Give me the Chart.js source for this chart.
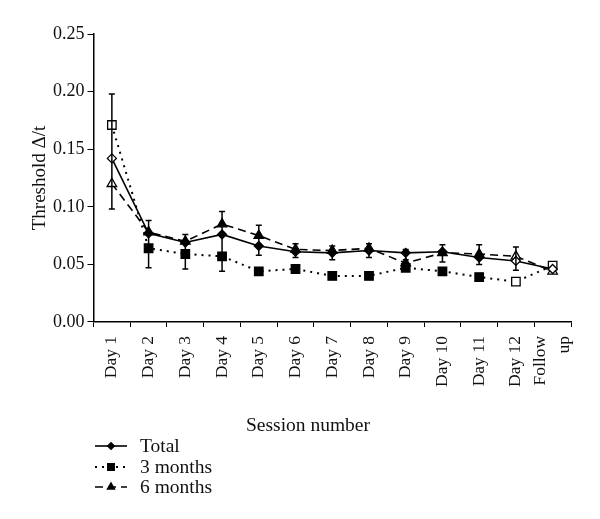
<!DOCTYPE html>
<html>
<head>
<meta charset="UTF-8">
<title>Threshold by session</title>
<script src="https://cdn.jsdelivr.net/npm/chart.js@4/dist/chart.umd.min.js"></script>
<style>
  html, body { margin: 0; padding: 0; background: #fff; }
  #wrap { position: relative; width: 600px; height: 519px; }
  .txt { font-family: "Liberation Serif", serif; color: #111; }
  #xtitle { position: absolute; left: 208px; width: 200px; top: 413px; text-align: center; font-size: 19.5px; line-height: 24px; }
  #legend { position: absolute; left: 93px; top: 436px; font-size: 19.5px; }
  #legend div { height: 20.5px; line-height: 20.5px; display: flex; align-items: center; }
  #legend canvas { margin-right: 11px; }
</style>
</head>
<body>
<div id="wrap">
  <canvas id="chart" width="600" height="519"></canvas>
  <div id="xtitle" class="txt">Session number</div>
  <div id="legend" class="txt"></div>
</div>
<script>
// session labels (x axis)
var sessions = ['Day 1', 'Day 2', 'Day 3', 'Day 4', 'Day 5', 'Day 6', 'Day 7',
                'Day 8', 'Day 9', 'Day 10', 'Day 11', 'Day 12', ['Follow', 'up']];

// threshold values
var total      = [0.142, 0.077, 0.069, 0.076, 0.066, 0.061, 0.060, 0.062, 0.060, 0.061, 0.056, 0.053, 0.046];
var threeMonth = [0.171, 0.064, 0.059, 0.057, 0.044, 0.046, 0.040, 0.040, 0.047, 0.044, 0.039, 0.035, 0.049];
var sixMonth   = [0.120, 0.078, 0.070, 0.085, 0.075, 0.063, 0.062, 0.064, 0.051, 0.060, 0.059, 0.057, 0.044];

// error bar ends (upper / lower)
var errHigh = [0.198, 0.088, 0.076, 0.096, 0.084, 0.068, 0.066, 0.068, 0.063, 0.067, 0.067, 0.065, null];
var errLow  = [0.098, 0.047, 0.046, 0.044, 0.058, 0.056, 0.054, 0.056, 0.054, 0.052, 0.050, 0.045, null];

// y ticks
var yTicks = [0, 0.05, 0.10, 0.15, 0.20, 0.25];

// which points are drawn hollow (first, day 12, follow up)
var hollow = [true, false, false, false, false, false, false, false, false, false, false, true, true];

var FONT = '"Liberation Serif", "Times New Roman", serif';

function fills() {
    return hollow.map(function(h) { return h ? '#ffffff' : '#000000'; });
}

var errorBars = {
    id: 'errorBars',
    afterDatasetsDraw: function(chart) {
        var ctx = chart.ctx, x = chart.scales.x, y = chart.scales.y;
        ctx.save();
        ctx.strokeStyle = '#000';
        ctx.lineWidth = 1.5;
        for (var i = 0; i < errHigh.length; i++) {
            if (errHigh[i] == null) continue;
            var px = x.getPixelForValue(i);
            var top = y.getPixelForValue(errHigh[i]);
            var bot = y.getPixelForValue(errLow[i]);
            ctx.beginPath();
            ctx.moveTo(px, top); ctx.lineTo(px, bot);
            ctx.moveTo(px - 3, top); ctx.lineTo(px + 3, top);
            ctx.moveTo(px - 3, bot); ctx.lineTo(px + 3, bot);
            ctx.stroke();
        }
        ctx.restore();
    }
};

// center multi-line rotated tick labels on their tick (Chart.js puts the first line on it)
var centerMultiline = {
    id: 'centerMultiline',
    beforeDraw: function(chart) {
        try {
            var sx = chart.scales.x;
            var items = sx.getLabelItems(chart.chartArea);
            var lh = sx.options.ticks.font.size * sx.options.ticks.font.lineHeight;
            items.forEach(function(it) {
                var tr = it.options && it.options.translation;
                if (Array.isArray(it.label) && tr && !it._centered) {
                    tr[0] -= lh * (it.label.length - 1) / 2;
                    it._centered = true;
                }
            });
        } catch (e) {
            console.warn('label centering skipped', e);
        }
    }
};

var datasets = [
    { label: 'Total', data: total, borderColor: '#000', borderWidth: 1.6, borderDash: [],
      pointStyle: 'rectRot', pointRadius: 4.5, pointBackgroundColor: fills(), pointBorderColor: '#000', pointBorderWidth: 1.3 },
    { label: '3 months', data: threeMonth, borderColor: '#000', borderWidth: 2, borderDash: [2, 5],
      pointStyle: 'rect', pointRadius: 6, pointBackgroundColor: fills(), pointBorderColor: '#000', pointBorderWidth: 1.3 },
    { label: '6 months', data: sixMonth, borderColor: '#000', borderWidth: 1.6, borderDash: [8, 5],
      pointStyle: 'triangle', pointRadius: 5.5, pointBackgroundColor: fills(), pointBorderColor: '#000', pointBorderWidth: 1.3 }
];

new Chart(document.getElementById('chart'), {
    type: 'line',
    data: { labels: sessions, datasets: datasets },
    options: {
        responsive: false,
        animation: false,
        layout: { padding: { left: 31, right: 29, top: 34, bottom: 123 } },
        plugins: { legend: { display: false }, tooltip: { enabled: false } },
        elements: { line: { tension: 0 } },
        scales: {
            x: {
                offset: true,
                // labels overhang is handled by layout padding, not by the axis
                afterFit: function(axis) { axis.paddingRight = 0; },
                grid: { drawOnChartArea: false, drawTicks: true, tickLength: 5, color: '#000', offset: true },
                border: { color: '#000', width: 1.5 },
                ticks: { color: '#111', font: { family: FONT, size: 17.5, lineHeight: 1.4 }, minRotation: 90, maxRotation: 90, padding: 9, autoSkip: false }
            },
            y: {
                min: 0, max: 0.25,
                afterBuildTicks: function(axis) { axis.ticks = yTicks.map(function(v) { return { value: v }; }); },
                grid: { drawOnChartArea: false, drawTicks: true, tickLength: 6, color: '#000' },
                border: { color: '#000', width: 1.5 },
                ticks: { color: '#111', font: { family: FONT, size: 18 }, padding: 3,
                         callback: function(v) { return Number(v).toFixed(2); } },
                title: { display: true, text: 'Threshold \u0394/t', color: '#111', font: { family: FONT, size: 19, lineHeight: 1.0 }, padding: { top: 0, bottom: 0 } }
            }
        }
    },
    plugins: [errorBars, centerMultiline]
});

// legend with line + marker swatches
(function() {
    var box = document.getElementById('legend');
    datasets.forEach(function(ds) {
        var row = document.createElement('div');
        var c = document.createElement('canvas');
        c.width = 36; c.height = 20;
        var g = c.getContext('2d');
        g.strokeStyle = '#000';
        g.lineWidth = ds.borderWidth;
        g.setLineDash(ds.borderDash);
        g.beginPath(); g.moveTo(2, 10); g.lineTo(34, 10); g.stroke();
        g.setLineDash([]);
        g.fillStyle = '#000';
        Chart.helpers.drawPoint(g, { pointStyle: ds.pointStyle, radius: ds.pointRadius * 0.7, borderWidth: 1 }, 18, 10);
        g.fill();
        row.appendChild(c);
        var t = document.createElement('span');
        t.textContent = ds.label;
        row.appendChild(t);
        box.appendChild(row);
    });
})();
</script>
</body>
</html>
